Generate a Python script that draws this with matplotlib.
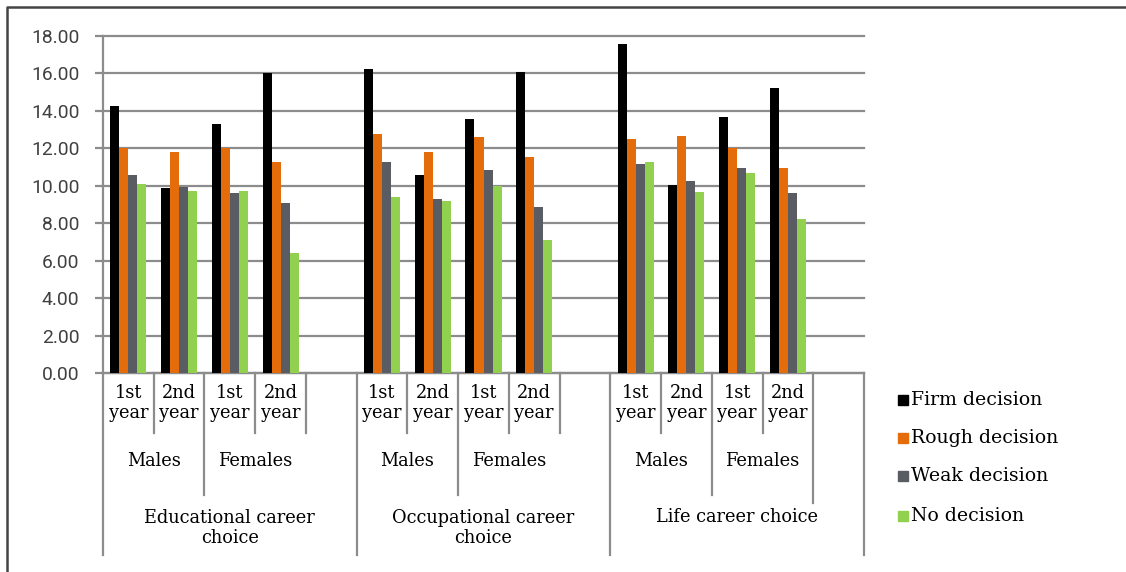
import matplotlib
matplotlib.use("Agg")
import matplotlib.pyplot as plt
import matplotlib.transforms as mtransforms
import numpy as np

# ==============================================================
# Data
# ==============================================================
groups = ["Educational career\nchoice", "Occupational career\nchoice", "Life career choice"]
sexes = ["Males", "Females"]
years = ["1st\nyear", "2nd\nyear"]
series = ["Firm decision", "Rough decision", "Weak decision", "No decision"]

# values per group: [M 1st, M 2nd, F 1st, F 2nd]
firm = [14.25, 9.87, 13.30, 16.00,
        16.25, 10.60, 13.55, 16.05,
        17.55, 10.05, 13.65, 15.20]
rough = [12.00, 11.80, 12.00, 11.28,
         12.75, 11.80, 12.60, 11.55,
         12.50, 12.68, 12.00, 10.95]
weak = [10.58, 9.95, 9.62, 9.10,
        11.25, 9.28, 10.85, 8.85,
        11.18, 10.24, 10.95, 9.62]
none = [10.08, 9.72, 9.70, 6.42,
        9.38, 9.20, 9.97, 7.12,
        11.28, 9.65, 10.68, 8.22]

colors = ["#000000", "#e46c0a", "#5a5c64", "#92d050"]
values = [firm, rough, weak, none]

# ==============================================================
# Figure
# ==============================================================
W, H = 1126, 572
fig = plt.figure(figsize=(W / 100, H / 100), dpi=100)

x0, x1 = 103, 864      # plot area, pixels
y_top, y_zero = 35.8, 373.3
ax = fig.add_axes([x0 / W, 1 - y_zero / H, (x1 - x0) / W, (y_zero - y_top) / H])

n_slots = 15
ax.set_xlim(0, n_slots)
ax.set_ylim(0, 18)

# slot index for each cluster (5 slots per group, last one empty)
slots = [g * 5 + k for g in range(3) for k in range(4)]
bw = 0.1775
for s, (vals, c) in enumerate(zip(values, colors)):
    xs = np.array(slots) + 0.5 + (s - 1.5) * bw
    ax.bar(xs, vals, width=bw, color=c, zorder=3, label=series[s])

grid_c = "#8c8c8c"
ax.set_yticks(np.arange(0, 18.1, 2))
ax.set_yticklabels(["%.2f" % v for v in np.arange(0, 18.1, 2)],
                   fontfamily="Roboto", fontsize=13.9, color="#404040")
ax.yaxis.grid(True, color=grid_c, lw=1.6, zorder=0)
for gl in ax.get_ygridlines():
    gl.set_clip_on(False)
ax.tick_params(axis="y", length=6, width=1.6, color=grid_c, pad=11)
ax.set_xticks([])
for sp in ["top", "right"]:
    ax.spines[sp].set_visible(False)
ax.spines["left"].set_color(grid_c)
ax.spines["left"].set_linewidth(1.6)
ax.spines["bottom"].set_color(grid_c)
ax.spines["bottom"].set_linewidth(1.6)

# ==============================================================
# Multi-level category axis
# ==============================================================
tr = mtransforms.blended_transform_factory(ax.transData, fig.transFigure)
fy = lambda yp: 1 - yp / H
serif = "DejaVu Serif"

ends = {}
for i in range(n_slots + 1):
    if i % 5 == 0:
        ends[i] = 555
    elif i % 5 == 2:
        ends[i] = 495
    elif i == 14:
        ends[i] = 503
    else:
        ends[i] = 433
for i, yb in ends.items():
    ax.plot([i, i], [fy(y_zero), fy(yb)], color=grid_c, lw=1.6,
            transform=tr, clip_on=False)

for g in range(3):
    for k in range(4):
        ax.text(g * 5 + k + 0.5, fy(403), years[k % 2], transform=tr,
                ha="center", va="center", fontfamily=serif, fontsize=12.8,
                linespacing=1.15)
    for j in range(2):
        ax.text(g * 5 + j * 2 + 1, fy(461), sexes[j], transform=tr,
                ha="center", va="center", fontfamily=serif, fontsize=12.8)
    ty = 517 if "\n" not in groups[g] else 528
    ax.text(g * 5 + 2.5, fy(ty), groups[g], transform=tr,
            ha="center", va="center", fontfamily=serif, fontsize=12.8,
            linespacing=1.1)

# ==============================================================
# Legend
# ==============================================================
leg_y = [400, 438, 476, 516]
for s in range(4):
    fig.patches.append(plt.Rectangle(((898) / W, fy(leg_y[s] + 5)), 10 / W, 10 / H,
                                     transform=fig.transFigure, color=colors[s]))
    fig.text(911 / W, fy(leg_y[s]), series[s], ha="left", va="center",
             fontfamily=serif, fontsize=13.6)

# figure frame (left and top edges)
fig.add_artist(plt.Line2D([7 / W, 7 / W, 1], [0, fy(7), fy(7)],
                          transform=fig.transFigure, color="#444444", lw=1.8))

fig.savefig("out.png", dpi=100)
